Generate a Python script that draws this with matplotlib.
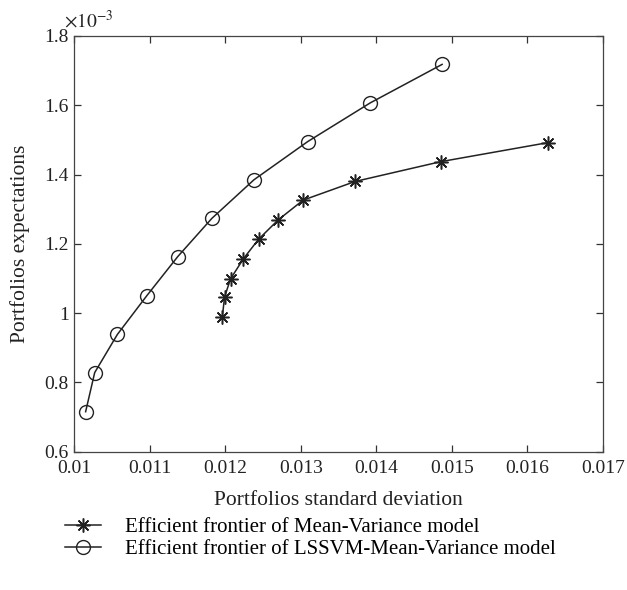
import matplotlib.pyplot as plt
from matplotlib.ticker import FuncFormatter, MultipleLocator

plt.rcParams['font.family'] = ['Liberation Serif', 'DejaVu Serif']
plt.rcParams['mathtext.fontset'] = 'stix'

# efficient frontier of the plain mean-variance model
mv_std = [0.01196, 0.01199, 0.01207, 0.01224, 0.01244, 0.01270, 0.01303, 0.01372, 0.01485, 0.01627]
mv_exp = [0.989, 1.047, 1.099, 1.157, 1.213, 1.269, 1.326, 1.380, 1.437, 1.492]  # x 1e-3

# efficient frontier of the LSSVM-based mean-variance model
ls_std = [0.01015, 0.01027, 0.01057, 0.01096, 0.01137, 0.01182, 0.01238, 0.01309, 0.01392, 0.01487]
ls_exp = [0.715, 0.828, 0.938, 1.050, 1.163, 1.273, 1.385, 1.495, 1.607, 1.718]  # x 1e-3

fig = plt.figure(figsize=(6.27, 5.90), dpi=100)
ax = fig.add_axes([0.1185, 0.2347, 0.8432, 0.7043])

col = '#222222'
ax.plot(mv_std, mv_exp, color=col, lw=1.1, marker=(8, 2, 0), ms=10, mew=1.1,
        label='Efficient frontier of Mean-Variance model')
ax.plot(ls_std, ls_exp, color=col, lw=1.1, marker='o', ms=10, mfc='none', mew=1.0,
        label='Efficient frontier of LSSVM-Mean-Variance model')

ax.set_xlim(0.01, 0.017)
ax.set_ylim(0.6, 1.8)
ax.xaxis.set_major_locator(MultipleLocator(0.001))
ax.yaxis.set_major_locator(MultipleLocator(0.2))
fmt = FuncFormatter(lambda v, p: '%g' % round(v, 4))
ax.xaxis.set_major_formatter(fmt)
ax.yaxis.set_major_formatter(fmt)
ax.tick_params(direction='in', top=True, right=True, length=5, width=0.9,
               labelsize=14, colors='#333333', labelcolor='#222222')
ax.tick_params(axis='x', pad=6)
ax.tick_params(axis='y', pad=4)
for s in ax.spines.values():
    s.set_color('#444444')
    s.set_linewidth(0.9)

ax.text(-0.02, 1.01, r'$\times10^{-3}$', transform=ax.transAxes, fontsize=14,
        ha='left', va='bottom', color='#222222')

ax.set_xlabel('Portfolios standard deviation', fontsize=15.5, color='#222222', labelpad=10)
ax.set_ylabel('Portfolios expectations', fontsize=15.5, color='#222222', labelpad=10)

fig.legend(loc='upper left', bbox_to_anchor=(0.090, 0.137), frameon=False, fontsize=15,
           handlelength=1.75, handletextpad=1.15, labelspacing=0.12, borderaxespad=0)

fig.savefig('out.png', dpi=100)
